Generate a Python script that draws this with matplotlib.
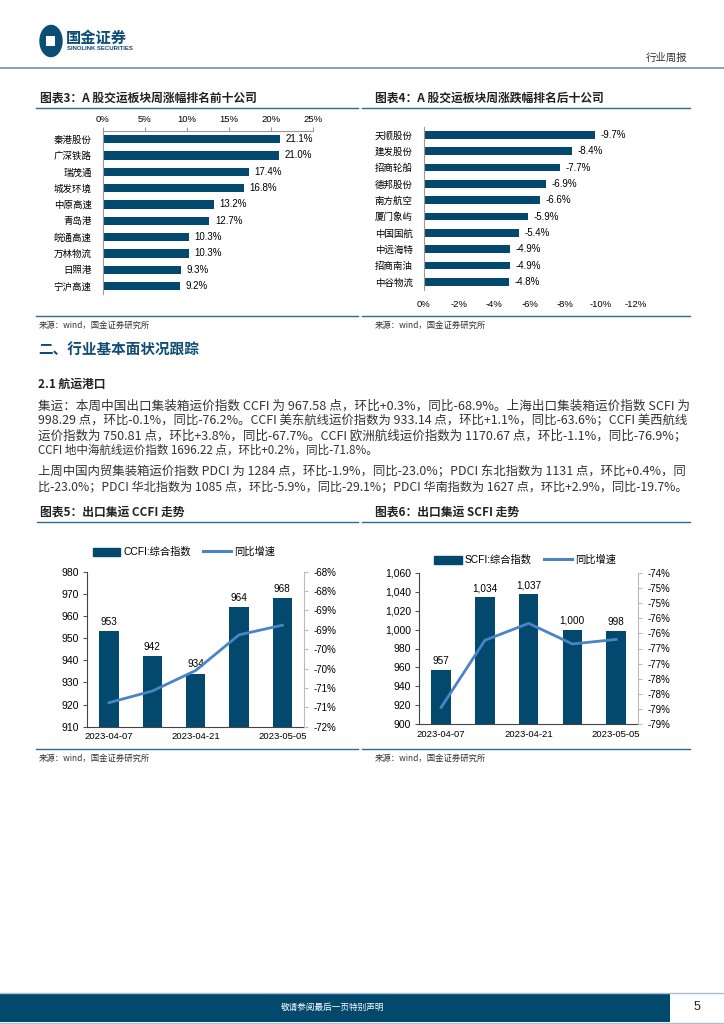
import matplotlib
matplotlib.use('Agg')
import matplotlib.pyplot as plt
from matplotlib.lines import Line2D
from matplotlib.patches import Rectangle, Circle, Patch
from matplotlib.ticker import FuncFormatter

plt.rcParams['font.family'] = ['Liberation Sans', 'Noto Sans CJK SC', 'DejaVu Sans']
CJK = ['Noto Sans CJK SC', 'DejaVu Sans']

# ---- data ----
top_names = ['秦港股份', '广深铁路', '瑞茂通', '城发环境', '中原高速',
             '青岛港', '皖通高速', '万林物流', '日照港', '宁沪高速']
top_values = [21.1, 21.0, 17.4, 16.8, 13.2, 12.7, 10.3, 10.3, 9.3, 9.2]

bottom_names = ['天顺股份', '建发股份', '招商轮船', '德邦股份', '南方航空',
                '厦门象屿', '中国国航', '中远海特', '招商南油', '中谷物流']
bottom_values = [-9.7, -8.4, -7.7, -6.9, -6.6, -5.9, -5.4, -4.9, -4.9, -4.8]

dates = ['2023-04-07', '2023-04-14', '2023-04-21', '2023-04-28', '2023-05-05']
date_labels = ['2023-04-07', '', '2023-04-21', '', '2023-05-05']

ccfi_index = [953, 942, 934, 964, 968]
ccfi_yoy = [-70.88, -70.58, -70.05, -69.13, -68.88]
ccfi_left_ticks = [910, 920, 930, 940, 950, 960, 970, 980]
ccfi_right_ticks = [-71.5, -71.0, -70.5, -70.0, -69.5, -69.0, -68.5, -68.0, -67.5]
ccfi_right_labels = ['-72%', '-71%', '-71%', '-70%', '-70%', '-69%', '-69%', '-68%', '-68%']

scfi_index = [957, 1034, 1037, 1000, 998]
scfi_yoy = [-78.44, -76.23, -75.67, -76.35, -76.2]
scfi_left_ticks = [900, 920, 940, 960, 980, 1000, 1020, 1040, 1060]
scfi_right_ticks = [-79.0, -78.5, -78.0, -77.5, -77.0, -76.5, -76.0, -75.5, -75.0, -74.5, -74.0]
scfi_right_labels = ['-79%', '-79%', '-78%', '-78%', '-77%', '-77%', '-76%', '-76%', '-75%', '-75%', '-74%']

para1 = [
    '集运：本周中国出口集装箱运价指数 CCFI 为 967.58 点，环比+0.3%，同比-68.9%。上海出口集装箱运价指数 SCFI 为',
    '998.29 点，环比-0.1%，同比-76.2%。CCFI 美东航线运价指数为 933.14 点，环比+1.1%，同比-63.6%；CCFI 美西航线',
    '运价指数为 750.81 点，环比+3.8%，同比-67.7%。CCFI 欧洲航线运价指数为 1170.67 点，环比-1.1%，同比-76.9%；',
    'CCFI 地中海航线运价指数 1696.22 点，环比+0.2%，同比-71.8%。',
]
para2 = [
    '上周中国内贸集装箱运价指数 PDCI 为 1284 点，环比-1.9%，同比-23.0%；PDCI 东北指数为 1131 点，环比+0.4%，同',
    '比-23.0%；PDCI 华北指数为 1085 点，环比-5.9%，同比-29.1%；PDCI 华南指数为 1627 点，环比+2.9%，同比-19.7%。',
]

# ---- styles ----
NAVY = '#03496e'
LINE_BLUE = '#4a84c4'
RULE = '#2f6a8f'
W, H = 724, 1024


def fx(x):
    return x / W


def fy(y):
    return 1 - y / H


def rect(l, t, r, b):
    return [l / W, 1 - b / H, (r - l) / W, (b - t) / H]


def hline(fig, x0, x1, y, color, lw):
    fig.add_artist(Line2D([fx(x0), fx(x1)], [fy(y), fy(y)], color=color, lw=lw,
                          transform=fig.transFigure))


fig = plt.figure(figsize=(7.24, 10.24), dpi=100)

# header
fig.add_artist(Circle((fx(51), fy(41)), 11 / W, transform=fig.transFigure, color='#0b4d74'))
fig.add_artist(Rectangle((fx(46), fy(46)), 9 / W, 10 / H, transform=fig.transFigure,
                         color='white', lw=0))
fig.text(fx(66), fy(38), '国金证券', family=CJK, fontsize=11, weight='bold',
         color='#0b4d74', va='center')
fig.text(fx(67), fy(48.5), 'SINOLINK SECURITIES', fontsize=4.3, weight='bold',
         color='#0b4d74', va='center')
fig.text(fx(687), fy(58), '行业周报', family=CJK, fontsize=7.5, color='#333333',
         ha='right', va='center')
hline(fig, 0, 724, 68, '#7d9bb3', 1.3)


def chart_title(x, y, s, x0, x1):
    fig.text(fx(x), fy(y), s, family=CJK, fontsize=8.5, weight='bold', color='#222222',
             va='center', style='italic')
    hline(fig, x0, x1, y + 9.5, RULE, 1.0)


def source(x, y, x0, x1):
    hline(fig, x0, x1, y - 9.5, RULE, 1.0)
    fig.text(fx(x), fy(y), '来源：wind，国金证券研究所', family=CJK, fontsize=6,
             color='#333333', va='center')


# ---- chart 3 ----
chart_title(40, 98, '图表3：A 股交运板块周涨幅排名前十公司', 36, 358)
ax3 = fig.add_axes(rect(102.7, 131, 312.7, 294.3))
pos = list(range(len(top_names)))
ax3.barh(pos, top_values, height=0.5, color=NAVY)
ax3.set_xlim(0, 25)
ax3.set_ylim(9.5, -0.5)
ax3.xaxis.tick_top()
ax3.set_xticks([0, 5, 10, 15, 20, 25])
ax3.xaxis.set_major_formatter(FuncFormatter(lambda v, p: f'{int(round(v))}%'))
ax3.set_yticks(pos)
ax3.set_yticklabels(top_names, family=CJK)
ax3.tick_params(axis='x', labelsize=6.8, length=3, color='#999999', pad=2)
ax3.tick_params(axis='y', labelsize=6.8, length=0, pad=8)
for s in ['right', 'bottom']:
    ax3.spines[s].set_visible(False)
ax3.spines['top'].set_color('#999999')
ax3.spines['left'].set_color('#999999')
for i, v in enumerate(top_values):
    ax3.annotate(f'{v:.1f}%', (v, i), xytext=(4, 0), textcoords='offset points',
                 ha='left', va='center', fontsize=7)
source(39, 325, 36, 358)

# ---- chart 4 ----
chart_title(374.7, 98, '图表4：A 股交运板块周涨跌幅排名后十公司', 362, 690)
ax4 = fig.add_axes(rect(423.7, 126.7, 636, 290))
ax4.barh(pos, bottom_values, height=0.47, color=NAVY)
ax4.set_xlim(0, -12)
ax4.set_ylim(9.5, -0.5)
ax4.set_xticks([0, -2, -4, -6, -8, -10, -12])
ax4.xaxis.set_major_formatter(FuncFormatter(lambda v, p: f'{int(round(v))}%'))
ax4.set_yticks(pos)
ax4.set_yticklabels(bottom_names, family=CJK)
ax4.tick_params(axis='x', labelsize=6.8, length=0, pad=7)
ax4.tick_params(axis='y', labelsize=6.8, length=0, pad=8)
for s in ['right', 'top', 'bottom']:
    ax4.spines[s].set_visible(False)
ax4.spines['left'].set_color('#999999')
for i, v in enumerate(bottom_values):
    ax4.annotate(f'{v:.1f}%', (v, i), xytext=(4, 0), textcoords='offset points',
                 ha='left', va='center', fontsize=7)
source(374.7, 325, 362, 690)

# ---- section text ----
fig.text(fx(38), fy(350), '二、行业基本面状况跟踪', family=CJK, fontsize=10.5,
         weight='bold', color='#0f4c75', va='center')
fig.text(fx(38), fy(384), '2.1 航运港口', family=CJK, fontsize=8.5, weight='bold',
         color='#222222', va='center')

renderer = fig.canvas.get_renderer()


def paragraph(lines, y0, step, full):
    base = 8.3
    for k, line in enumerate(lines):
        t = fig.text(fx(38), fy(y0 + k * step), line, family=CJK, fontsize=base,
                     color='#333333', weight='light', va='center')
        if full[k]:
            w = t.get_window_extent(renderer).width
            t.set_fontsize(base * 650 / w)


paragraph(para1, 406, 14.7, [True, True, True, False])
paragraph(para2, 472, 14.7, [True, True])


# ---- combo charts ----
def combo(box, bars, yoy, lticks, lfmt, rticks, rlabels, legend_name, legend_xy):
    ax = fig.add_axes(rect(*box))
    x = list(range(len(dates)))
    ax.bar(x, bars, width=0.45, color=NAVY, zorder=2)
    ax.set_xlim(-0.5, len(dates) - 0.5)
    ax.set_ylim(lticks[0], lticks[-1])
    ax.set_yticks(lticks)
    ax.set_yticklabels([lfmt(v) for v in lticks])
    ax.set_xticks(x)
    ax.set_xticklabels(date_labels)
    ax.tick_params(axis='x', labelsize=6.8, length=0, pad=4)
    ax.tick_params(axis='y', labelsize=7.5, length=3, direction='out', color='#555555', pad=3)
    ax.spines['top'].set_visible(False)
    ax.spines['right'].set_visible(False)
    ax.spines['left'].set_color('#444444')
    ax.spines['bottom'].set_color('#444444')
    for i, v in enumerate(bars):
        ax.annotate(lfmt(v), (i, v), xytext=(0, 3), textcoords='offset points',
                    ha='center', va='bottom', fontsize=7.2)
    ax2 = ax.twinx()
    ax2.plot(x, yoy, color=LINE_BLUE, lw=2, zorder=3)
    ax2.set_ylim(rticks[0], rticks[-1])
    ax2.set_yticks(rticks)
    ax2.set_yticklabels(rlabels)
    ax2.tick_params(axis='y', labelsize=7, length=3, color='#bbbbbb', pad=4)
    for s in ['top', 'left', 'bottom']:
        ax2.spines[s].set_visible(False)
    ax2.spines['right'].set_color('#bbbbbb')
    handles = [Patch(color=NAVY), Line2D([0], [0], color=LINE_BLUE, lw=2.2)]
    fig.legend(handles, [legend_name, '同比增速'], loc='center',
               bbox_to_anchor=(fx(legend_xy[0]), fy(legend_xy[1])), ncol=2,
               frameon=False, handlelength=2.7, handleheight=0.8,
               columnspacing=1.2, handletextpad=0.3,
               prop={'family': ['Liberation Sans', 'Noto Sans CJK SC'], 'size': 7.4})
    return ax


chart_title(40, 512, '图表5：出口集运 CCFI 走势', 37, 358)
combo((87.3, 571.7, 304, 726.7), ccfi_index, ccfi_yoy, ccfi_left_ticks,
      lambda v: f'{v:.0f}', ccfi_right_ticks, ccfi_right_labels, 'CCFI:综合指数', (184, 552))
source(39, 758, 36, 358)

chart_title(374.7, 512, '图表6：出口集运 SCFI 走势', 362, 690)
combo((419.3, 572.7, 638, 724.3), scfi_index, scfi_yoy, scfi_left_ticks,
      lambda v: f'{v:,.0f}', scfi_right_ticks, scfi_right_labels, 'SCFI:综合指数', (525, 560))
source(374.7, 758, 362, 690)

# ---- footer ----
hline(fig, 0, 724, 992.5, '#a9bfcf', 1.0)
hline(fig, 0, 724, 1022.8, '#a9bfcf', 1.0)
fig.add_artist(Rectangle((0, fy(1022.3)), fx(670), 29 / H, transform=fig.transFigure,
                         color=NAVY, lw=0))
fig.text(fx(333), fy(1007.5), '敬请参阅最后一页特别声明', family=CJK, fontsize=6.2,
         color='white', ha='center', va='center')
fig.text(fx(697), fy(1007.5), '5', fontsize=9, color='#222222', ha='center', va='center')

fig.savefig('out.png', dpi=100)
